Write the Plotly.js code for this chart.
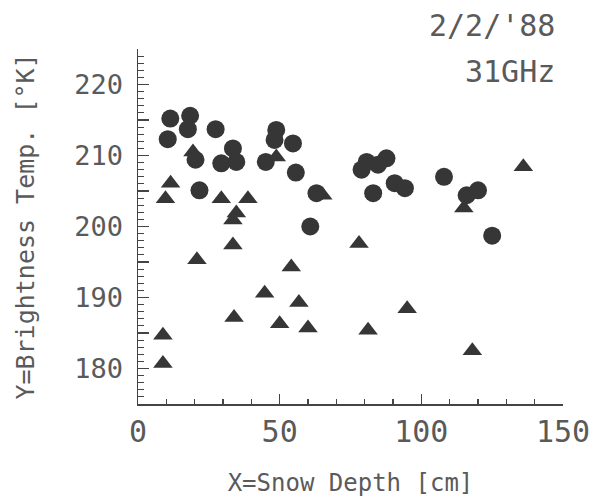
<!DOCTYPE html>
<html>
<head>
<meta charset="utf-8">
<script src="https://cdn.plot.ly/plotly-3.0.1.min.js"></script>
<style>html,body{margin:0;padding:0;background:#fff;}#chart{width:603px;height:499px;}</style>
</head>
<body>
<div id="chart"></div>
<script>
// Snow depth [cm] vs brightness temperature [K], 2/2/'88, 31 GHz
const circleDepth = [11.4, 18.4, 17.6, 10.5, 27.4, 20.3, 29.4, 33.5, 34.7, 48.8, 48.2, 54.7, 45.1, 55.7, 63.0, 21.7, 60.8,
                     80.7, 87.7, 78.9, 84.7, 83.0, 90.6, 94.2, 108.0, 116.0, 120.0, 125.0];
const circleTemp  = [215.2, 215.6, 213.7, 212.3, 213.7, 209.4, 208.9, 211.0, 209.1, 213.6, 212.2, 211.7, 209.1, 207.6, 204.7, 205.1, 200.0,
                     209.1, 209.6, 208.0, 208.7, 204.7, 206.1, 205.4, 207.0, 204.4, 205.1, 198.7];
const triDepth = [19.4, 11.5, 9.7, 29.4, 38.8, 34.7, 33.5, 33.5, 20.8, 54.1, 65.2, 48.8,
                  136.0, 115.0, 78.0, 44.7, 56.8, 33.9, 50.0, 60.0, 81.2, 8.8, 8.8, 95.0, 118.0];
const triTemp  = [210.5, 206.1, 203.9, 203.9, 203.9, 201.9, 200.9, 197.4, 195.3, 194.3, 204.4, 209.8,
                  208.4, 202.6, 197.6, 190.6, 189.3, 187.2, 186.3, 185.7, 185.4, 184.7, 180.7, 188.4, 182.5];
const xTickVals = [0, 50, 100, 150];
const yTickVals = [175, 180, 185, 190, 195, 200, 205, 210, 215, 220, 225];
const yTickText = ['', '180', '', '190', '', '200', '', '210', '', '220', ''];

const FONT = 'DejaVu Sans Mono, monospace';
const INK = '#5a5a5a';
const MARK = '#363636';

const traces = [
  {x: triDepth, y: triTemp, type: 'scatter', mode: 'markers',
   marker: {symbol: 'triangle-up', size: 17, color: MARK}, hoverinfo: 'x+y'},
  {x: circleDepth, y: circleTemp, type: 'scatter', mode: 'markers',
   marker: {symbol: 'circle', size: 18, color: MARK}, hoverinfo: 'x+y'}
];

const layout = {
  width: 603, height: 499,
  margin: {l: 138, r: 40, t: 49, b: 95},
  paper_bgcolor: '#fff', plot_bgcolor: '#fff',
  showlegend: false,
  font: {family: FONT, color: INK},
  xaxis: {
    range: [0, 150], showgrid: false, zeroline: false,
    showline: true, linecolor: '#444', linewidth: 1.5,
    tickmode: 'array', tickvals: xTickVals,
    ticks: 'inside', ticklen: 10, tickwidth: 1.5, tickcolor: '#444',
    minor: {tickmode: 'linear', tick0: 0, dtick: 10, ticks: 'inside', ticklen: 5, tickwidth: 1.2, tickcolor: '#444'},
    tickfont: {family: FONT, size: 30, color: INK},
    ticklabelstandoff: 0,
    title: {text: 'X=Snow Depth [cm]', font: {family: FONT, size: 24, color: INK}, standoff: 26}
  },
  yaxis: {
    range: [175, 225], showgrid: false, zeroline: false,
    showline: true, linecolor: '#444', linewidth: 1.5,
    tickmode: 'array', tickvals: yTickVals, ticktext: yTickText,
    ticks: 'inside', ticklen: 11, tickwidth: 1.3, tickcolor: '#444',
    minor: {tickmode: 'linear', tick0: 175, dtick: 1, ticks: 'inside', ticklen: 6, tickwidth: 1, tickcolor: '#444'},
    tickfont: {family: FONT, size: 27, color: INK},
    ticklabelstandoff: 8,
    title: {text: 'Y=Brightness Temp. [°K]', font: {family: FONT, size: 25, color: INK}, standoff: 32}
  },
  annotations: [
    {text: "2/2/'88", xref: 'paper', yref: 'paper', x: (557-138)/(563-138), y: 1 + (49-25)/355,
     xanchor: 'right', yanchor: 'middle', showarrow: false, font: {family: FONT, size: 30, color: INK}},
    {text: '31GHz', xref: 'paper', yref: 'paper', x: (557-138)/(563-138), y: 1 + (49-71)/355,
     xanchor: 'right', yanchor: 'middle', showarrow: false, font: {family: FONT, size: 30, color: INK}}
  ]
};

Plotly.newPlot('chart', traces, layout, {displayModeBar: false, staticPlot: true});
</script>
</body>
</html>
